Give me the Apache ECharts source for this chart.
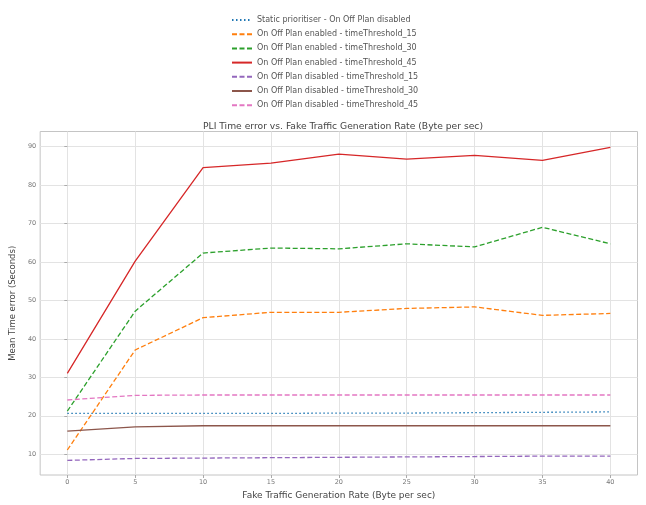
<!DOCTYPE html>
<html>
<head>
<meta charset="utf-8">
<script src="https://cdn.jsdelivr.net/npm/echarts@6/dist/echarts.min.js"></script>
<style>
html,body{margin:0;padding:0;background:#fff;}
#chart{width:646px;height:505px;}
</style>
</head>
<body>
<div id="chart"></div>
<script>
const xValues = [0, 5, 10, 15, 20, 25, 30, 35, 40];
const xTicks = [0, 5, 10, 15, 20, 25, 30, 35, 40];
const yTicks = [10, 20, 30, 40, 50, 60, 70, 80, 90];

const seriesNames = [
  'Static prioritiser - On Off Plan disabled',
  'On Off Plan enabled - timeThreshold_15',
  'On Off Plan enabled - timeThreshold_30',
  'On Off Plan enabled - timeThreshold_45',
  'On Off Plan disabled - timeThreshold_15',
  'On Off Plan disabled - timeThreshold_30',
  'On Off Plan disabled - timeThreshold_45'
];
const staticDisabled = [20.6, 20.6, 20.6, 20.6, 20.7, 20.7, 20.8, 20.9, 21.0];
const enabled15 = [11.1, 37.1, 45.5, 46.9, 46.9, 47.9, 48.3, 46.1, 46.6];
const enabled30 = [21.2, 47.2, 62.3, 63.6, 63.4, 64.7, 63.9, 69.0, 64.7];
const enabled45 = [31.0, 60.2, 84.5, 85.7, 88.0, 86.7, 87.7, 86.4, 89.8];
const disabled15 = [8.4, 8.9, 9.0, 9.1, 9.2, 9.3, 9.4, 9.5, 9.5];
const disabled30 = [16.0, 17.1, 17.4, 17.4, 17.4, 17.4, 17.4, 17.4, 17.4];
const disabled45 = [24.1, 25.3, 25.4, 25.4, 25.4, 25.4, 25.4, 25.4, 25.4];

const seriesData = [staticDisabled, enabled15, enabled30, enabled45, disabled15, disabled30, disabled45];
const colors = ['#1f77b4', '#ff7f0e', '#2ca02c', '#d62728', '#9467bd', '#8c564b', '#e377c2'];
const lineTypes = [[1.5, 2.5], [5, 2.5], [5, 2.5], 'solid', [5, 2.5], 'solid', [5, 2.5]];

const chart = echarts.init(document.getElementById('chart'), null, {renderer: 'canvas'});
const font = 'DejaVu Sans';

const series = seriesNames.map((name, i) => ({
  name: name,
  type: 'line',
  data: xValues.map((x, j) => [x, seriesData[i][j]]),
  showSymbol: false,
  symbol: 'none',
  color: colors[i],
  lineStyle: {color: colors[i], width: 1.3, type: lineTypes[i]},
  z: 3
}));

chart.setOption({
  animation: false,
  backgroundColor: '#ffffff',
  title: {
    text: 'PLI Time error vs. Fake Traffic Generation Rate (Byte per sec)',
    left: 338, top: 117, textAlign: 'center',
    textStyle: {fontFamily: font, fontSize: 9.2, fontWeight: 'normal', color: '#444'}
  },
  legend: {
    orient: 'vertical',
    left: 226, top: 10,
    itemWidth: 20, itemHeight: 10,
    itemGap: 4.2,
    itemStyle: {opacity: 0},
    textStyle: {fontFamily: font, fontSize: 8, color: '#555', lineHeight: 10},
    data: seriesNames
  },
  grid: {
    left: 38.5, top: 131.5, right: 8.5, bottom: 29.5,
    show: true, borderColor: '#c4c4c4', borderWidth: 1, backgroundColor: 'transparent'
  },
  xAxis: {
    type: 'value', min: -2, max: 42,
    name: 'Fake Traffic Generation Rate (Byte per sec)',
    nameLocation: 'middle', nameGap: 16,
    nameTextStyle: {fontFamily: font, fontSize: 9, color: '#444'},
    axisLine: {show: false},
    axisTick: {show: true, customValues: xTicks, length: 3, lineStyle: {color: '#aaa'}},
    axisLabel: {customValues: xTicks, fontFamily: font, fontSize: 6.5, color: '#777', margin: 4},
    splitLine: {show: true, lineStyle: {color: '#e3e3e3', width: 1}}
  },
  yAxis: {
    type: 'value', min: 4.6, max: 93.9,
    name: 'Mean Time error (Seconds)',
    nameLocation: 'middle', nameGap: 17, nameRotate: 90,
    nameTextStyle: {fontFamily: font, fontSize: 8.5, color: '#444'},
    axisLine: {show: false},
    axisTick: {show: true, customValues: yTicks, length: 3, lineStyle: {color: '#aaa'}},
    axisLabel: {customValues: yTicks, fontFamily: font, fontSize: 6.5, color: '#777', margin: 4},
    splitLine: {show: true, lineStyle: {color: '#e3e3e3', width: 1}}
  },
  series: series
});
</script>
</body>
</html>
